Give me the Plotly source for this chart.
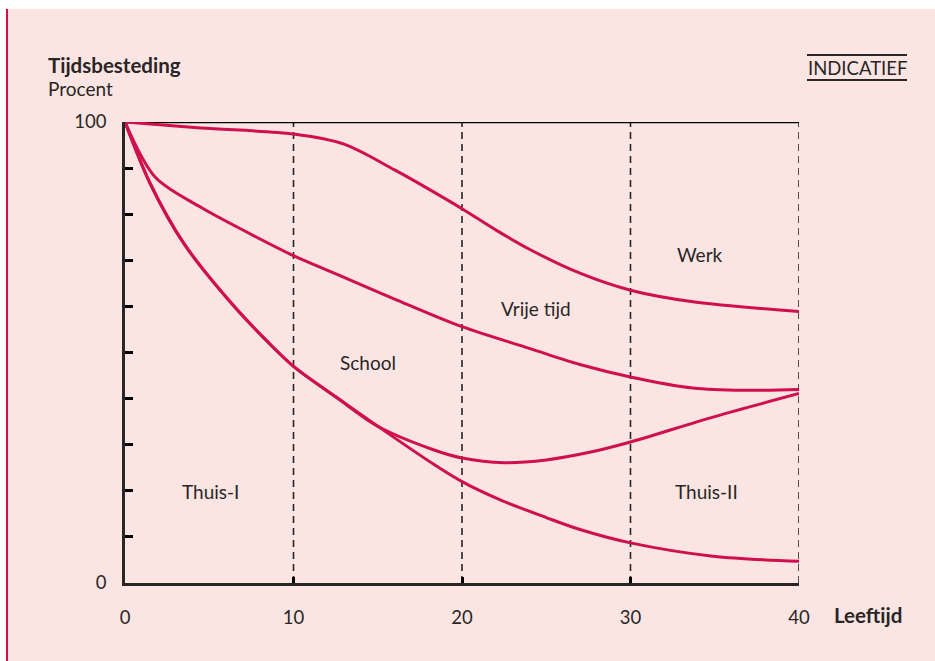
import plotly.graph_objects as go

# ---- data ----
werk_age = [0, 4.5, 10, 13, 16, 18, 20, 22, 24, 27, 30, 33.7, 40]
werk_pct = [100, 98.7, 97.4, 95.2, 89.6, 85.5, 81.2, 76.6, 72.4, 67.2, 63.5, 61.0, 58.9]

vrij_age = [0, 1.8, 4.5, 7.5, 10, 13, 16, 20, 24, 27, 30, 33.7, 36.7, 40]
vrij_pct = [100, 88.0, 81.5, 75.6, 71.0, 66.3, 61.6, 55.6, 50.9, 47.4, 44.7, 42.3, 41.8, 42.0]

school_age = [0, 1.5, 3.5, 6.5, 8.5, 10, 12.5, 15, 18.3, 20, 22.5, 25, 27.5, 30, 35, 40]
school_pct = [100, 86.6, 73.6, 59.9, 52.2, 47.0, 40.4, 34.0, 28.9, 27.1, 26.1, 26.7, 28.3, 30.6, 36.1, 41.1]

thuis_age = [0, 1.5, 3.5, 6.5, 8.5, 10, 12.5, 15, 18.3, 20, 22.3, 25, 27, 30, 34.9, 40]
thuis_pct = [100, 86.6, 73.6, 59.9, 52.2, 47.0, 40.4, 34.0, 25.8, 22.0, 18.0, 14.2, 11.6, 8.7, 5.8, 4.7]

x_ticks = [0, 10, 20, 30, 40]
y_ticks = [0, 10, 20, 30, 40, 50, 60, 70, 80, 90, 100]
y_ticklabels = ["0", "", "", "", "", "", "", "", "", "", "100"]
dashed_ages = [10, 20, 30, 40]

region_labels = ["Werk", "Vrije tijd", "School", "Thuis-I", "Thuis-II"]
region_age = [34.1, 24.4, 14.4, 5.1, 34.5]
region_pct = [71.3, 59.6, 47.9, 19.8, 19.8]

# ---- styling ----
BG = "#FAE5E3"
RED = "#D0104C"
INK = "#2A2526"
FONT = "Lato, Open Sans, sans-serif"

W, H = 935, 661
L, R, T, B = 125, 136, 122, 78
PW, PH = W - L - R, H - T - B

def px_x(p):  # figure pixel -> paper x
    return (p - L) / PW

def px_y(p):  # figure pixel (from top) -> paper y
    return (H - B - p) / PH

fig = go.Figure()

for ages, vals in [(werk_age, werk_pct), (vrij_age, vrij_pct),
                   (school_age, school_pct), (thuis_age, thuis_pct)]:
    fig.add_trace(go.Scatter(x=ages, y=vals, mode="lines",
                             line=dict(color=RED, width=3, shape="spline", smoothing=0.9),
                             hoverinfo="skip", showlegend=False))

shapes = []
# white strips and red left rule
shapes.append(dict(type="rect", xref="paper", yref="paper", layer="below",
                   x0=px_x(-5), x1=px_x(W + 5), y0=px_y(9), y1=px_y(-5),
                   fillcolor="white", line=dict(width=0)))
shapes.append(dict(type="rect", xref="paper", yref="paper", layer="below",
                   x0=px_x(-5), x1=px_x(6), y0=px_y(H + 5), y1=px_y(-5),
                   fillcolor="white", line=dict(width=0)))
shapes.append(dict(type="rect", xref="paper", yref="paper", layer="below",
                   x0=px_x(6), x1=px_x(8), y0=px_y(H + 5), y1=px_y(9),
                   fillcolor=RED, line=dict(width=0)))
# dashed verticals
for a in dashed_ages:
    shapes.append(dict(type="line", xref="x", yref="y", layer="below",
                       x0=a, x1=a, y0=0, y1=100,
                       line=dict(color=INK, width=1.6, dash="7px,5px")))
# top line
shapes.append(dict(type="line", xref="x", yref="y", layer="below",
                   x0=0, x1=40, y0=100, y1=100,
                   line=dict(color="black", width=2.5)))
# INDICATIEF rules
for yy in [55, 80]:
    shapes.append(dict(type="line", xref="paper", yref="paper",
                       x0=px_x(807), x1=px_x(907), y0=px_y(yy), y1=px_y(yy),
                       line=dict(color=INK, width=2)))

annotations = []
for lab, a, p in zip(region_labels, region_age, region_pct):
    annotations.append(dict(x=a, y=p, xref="x", yref="y", text=lab, showarrow=False,
                            font=dict(family=FONT, size=19, color=INK)))
annotations.append(dict(x=px_x(46), y=px_y(65), xref="paper", yref="paper",
                        text="<b>Tijdsbesteding</b>", showarrow=False,
                        xanchor="left", yanchor="middle",
                        font=dict(family=FONT, size=20.5, color=INK)))
annotations.append(dict(x=px_x(46), y=px_y(88), xref="paper", yref="paper",
                        text="Procent", showarrow=False,
                        xanchor="left", yanchor="middle",
                        font=dict(family=FONT, size=19, color=INK)))
annotations.append(dict(x=px_x(857), y=px_y(68), xref="paper", yref="paper",
                        text="INDICATIEF", showarrow=False,
                        xanchor="center", yanchor="middle",
                        font=dict(family=FONT, size=18.5, color=INK)))
annotations.append(dict(x=px_x(832), y=px_y(615), xref="paper", yref="paper",
                        text="<b>Leeftijd</b>", showarrow=False,
                        xanchor="left", yanchor="middle",
                        font=dict(family=FONT, size=20.5, color=INK)))

fig.update_layout(
    width=W, height=H,
    margin=dict(l=L, r=R, t=T, b=B, pad=0),
    paper_bgcolor=BG, plot_bgcolor=BG,
    shapes=shapes, annotations=annotations,
    font=dict(family=FONT, size=18.5, color=INK),
    xaxis=dict(range=[0, 40], tickvals=x_ticks, ticktext=[str(v) for v in x_ticks],
               showgrid=False, zeroline=False, showline=True, linecolor=INK, linewidth=2.5,
               ticks="inside", ticklen=6, tickwidth=2.5, tickcolor="black",
               ticklabelstandoff=16, fixedrange=True),
    yaxis=dict(range=[0, 100], tickvals=y_ticks, ticktext=y_ticklabels,
               showgrid=False, zeroline=False, showline=True, linecolor=INK, linewidth=2.5,
               ticks="inside", ticklen=8, tickwidth=2.5, tickcolor="black",
               ticklabelstandoff=12, fixedrange=True),
)

fig.write_html("out.html", post_script="document.body.style.margin='0px';",
               config={"displayModeBar": False})
